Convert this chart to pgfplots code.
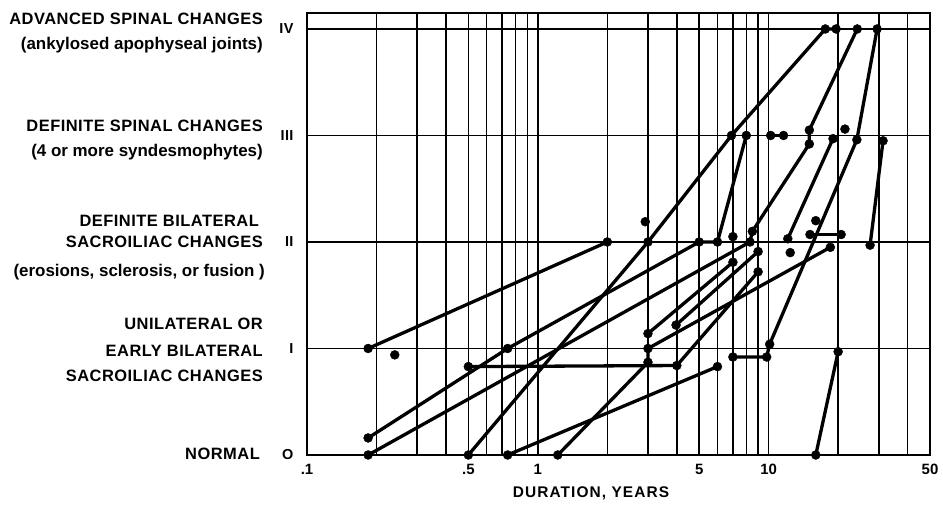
\documentclass[border=0pt]{standalone}
\usepackage{fontspec}
\setmainfont{Liberation Sans}
\newfontfamily\spaced[LetterSpace=3]{Liberation Sans}
\newfontfamily\wide[LetterSpace=7]{Liberation Sans}
\usepackage{pgfplots}
\pgfplotsset{compat=1.18}
\pgfplotsset{
  traj/.style={black, line width=3.3bp, mark=*, mark size=4.5bp,
    mark options={solid, fill=black, line width=0.4bp}},
  dots/.style={only marks, black, mark=*, mark size=4.5bp,
    mark options={solid, fill=black}},
}
\begin{document}
\begin{tikzpicture}[x=1bp,y=1bp]
\useasboundingbox (0,0) rectangle (943,505);
\begin{axis}[
  at={(307bp,50bp)}, anchor=south west,
  width=623bp, height=442bp, scale only axis,
  xmode=log, xmin=0.1, xmax=50, ymin=0, ymax=4.15,
  xtick={0.1,0.5,1,5,10,50},
  xticklabels={.1,.5,1,5,10,50},
  minor xtick={0.2,0.3,0.4,0.6,0.7,0.8,0.9,2,3,4,6,7,8,9,20,30,40},
  ytick={0,1,2,3,4},
  yticklabels={O,I,II,III,IV},
  grid=both,
  major grid style={black, line width=1.4bp},
  minor grid style={black, line width=1.4bp},
  axis line style={black, line width=1.5bp},
  major tick length=0pt, minor tick length=0pt,
  tick style={draw=none},
  xticklabel style={font=\bfseries\fontsize{15}{15}\selectfont, yshift=-6bp},
  yticklabel style={font=\bfseries\spaced\fontsize{14.5}{14.5}\selectfont, xshift=-10bp},
  /pgf/number format/assume math mode=true,
  clip=false,
]
% trajectories
\addplot[traj] coordinates {(0.184,1.0) (2.0,2.0)};
\addplot[traj] coordinates {(0.184,0.16) (0.74,1.0) (5,2.0) (6,2.0) (8,3.0)};
\addplot[traj] coordinates {(0.184,0) (8.3,2.0) (8.5,2.1) (15,2.92) (15,3.05) (24.2,4.0)};
\addplot[traj] coordinates {(0.5,0) (3,2.0) (6.9,3.0) (17.6,4.0) (19.6,4.0)};
\addplot[traj] coordinates {(12.1,2.03) (19,2.97)};
\addplot[traj] coordinates {(7,0.92) (9.8,0.92) (10.1,1.04) (24.1,2.96) (29.5,4.0)};
\addplot[traj] coordinates {(27.5,1.97) (31.3,2.95)};
\addplot[traj] coordinates {(3,1.14) (7,1.81)};
\addplot[traj] coordinates {(3.97,1.22) (9,1.91)};
\addplot[traj] coordinates {(1.22,0) (3,0.87) (3,1.0) (18.5,1.95)};
\addplot[traj] coordinates {(0.5,0.83) (4,0.84) (9,1.72)};
\addplot[traj] coordinates {(0.74,0) (6,0.83)};
\addplot[traj] coordinates {(16,0) (20,0.97)};
\addplot[traj] coordinates {(15.1,2.07) (20.6,2.07)};
\addplot[traj] coordinates {(10.2,3.0) (11.6,3.0)};
% isolated observations
\addplot[dots] coordinates {(0.24,0.94) (2.92,2.19) (16,2.2) (21.4,3.06) (7,2.05) (12.4,1.9)};
\node[font=\bfseries\wide\fontsize{15.5}{15.5}\selectfont] at (axis cs:1.7,0) [yshift=-38bp] {DURATION, YEARS};
\end{axis}
\begin{scope}[every node/.style={anchor=mid east, inner sep=0pt}]
\tikzset{caps/.style={font=\bfseries\spaced\fontsize{16.5}{16.5}\selectfont},
  low/.style={font=\bfseries\fontsize{17}{17}\selectfont}}
\node[caps] at (263,483) {ADVANCED SPINAL CHANGES};
\node[low]  at (263,458) {(ankylosed apophyseal joints)};
\node[caps] at (263,376) {DEFINITE SPINAL CHANGES};
\node[low]  at (263,351) {(4 or more syndesmophytes)};
\node[caps] at (259,281) {DEFINITE BILATERAL};
\node[caps] at (263,260) {SACROILIAC CHANGES};
\node[low]  at (265,231) {(erosions, sclerosis, or fusion )};
\node[caps] at (263,178) {UNILATERAL OR};
\node[caps] at (263,151) {EARLY BILATERAL};
\node[caps] at (263,126) {SACROILIAC CHANGES};
\node[caps] at (260,48) {NORMAL};
\end{scope}
\end{tikzpicture}
\end{document}
